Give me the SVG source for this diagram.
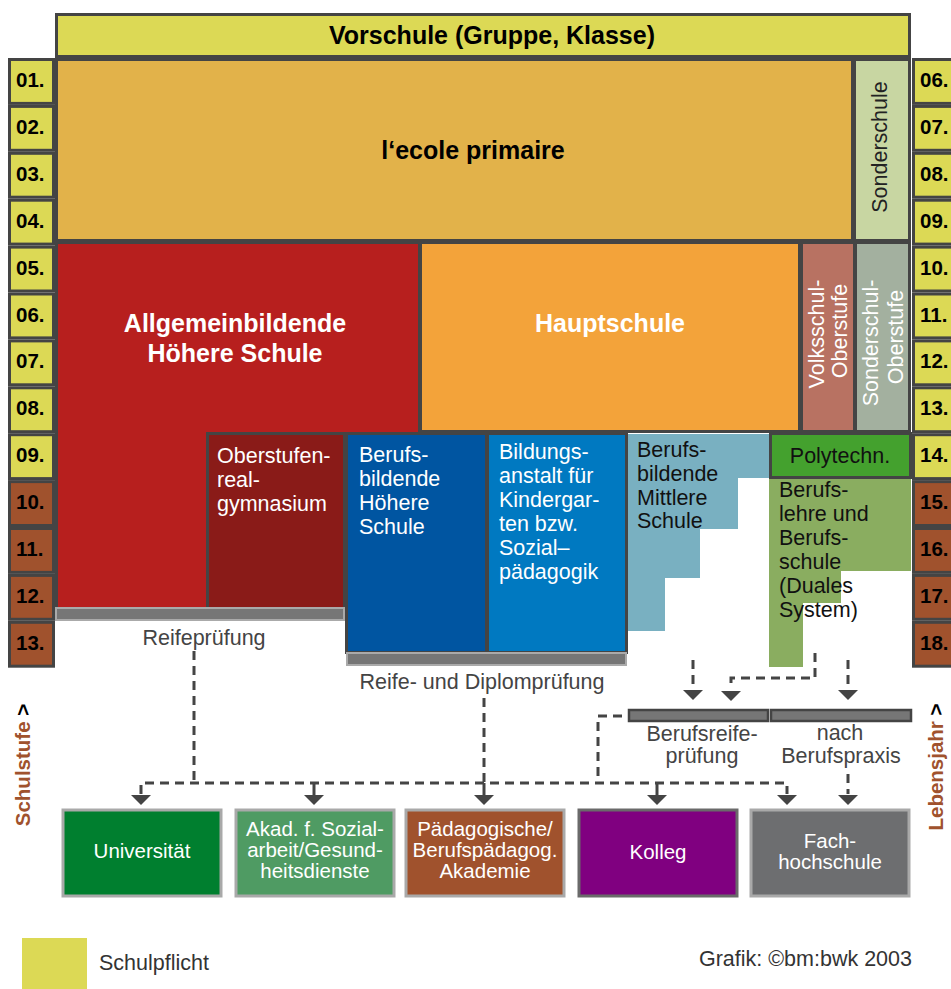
<svg xmlns="http://www.w3.org/2000/svg" xmlns:xlink="http://www.w3.org/1999/xlink" width="951" height="989" viewBox="0 0 951 989">
<style>
.bd{stroke:#444;stroke-width:3}
.yl{fill:#dcd955}
.brn{fill:#a0522d}
.yr{font-family:"Liberation Sans",Arial,sans-serif;font-weight:bold;font-size:20.5px;fill:#000}
.hb{font-family:"Liberation Sans",Arial,sans-serif;font-weight:bold;font-size:25px;text-anchor:middle}
.tx{font-family:"Liberation Sans",Arial,sans-serif;font-size:21.5px}
.w{fill:#fff}
.k{fill:#111}
.g{fill:#444}
.mid{text-anchor:middle}
.bar{fill:#767676;stroke:#aaa;stroke-width:2}
.bar2{fill:#767676;stroke:#444;stroke-width:2.5}
.dash{fill:none;stroke:#444;stroke-width:3;stroke-dasharray:9 6}
.stem{stroke:#444;stroke-width:3}
.dest{stroke:#a9a9a9;stroke-width:3}
.dt{font-family:"Liberation Sans",Arial,sans-serif;font-size:20.5px;fill:#fff;text-anchor:middle}
</style>
<defs>
<polygon id="tri" points="-10,0 10,0 0,10" fill="#444"/>
</defs>

<!-- Vorschule -->
<g id="vorschule">
<rect x="56.5" y="14.5" width="853" height="42" class="yl bd"/>
<text x="492" y="44" class="hb" fill="#000">Vorschule (Gruppe, Klasse)</text>
</g>

<!-- left age column (Schulstufe) -->
<g id="schulstufe">
<rect x="9.5" y="59.5" width="44" height="43.9" class="yl bd"/><text x="16" y="87" class="yr">01.</text>
<rect x="9.5" y="106.4" width="44" height="43.9" class="yl bd"/><text x="16" y="133.9" class="yr">02.</text>
<rect x="9.5" y="153.3" width="44" height="43.9" class="yl bd"/><text x="16" y="180.8" class="yr">03.</text>
<rect x="9.5" y="200.2" width="44" height="43.9" class="yl bd"/><text x="16" y="227.7" class="yr">04.</text>
<rect x="9.5" y="247.1" width="44" height="43.9" class="yl bd"/><text x="16" y="274.6" class="yr">05.</text>
<rect x="9.5" y="294" width="44" height="43.9" class="yl bd"/><text x="16" y="321.5" class="yr">06.</text>
<rect x="9.5" y="340.9" width="44" height="43.9" class="yl bd"/><text x="16" y="368.4" class="yr">07.</text>
<rect x="9.5" y="387.8" width="44" height="43.9" class="yl bd"/><text x="16" y="415.3" class="yr">08.</text>
<rect x="9.5" y="434.7" width="44" height="43.9" class="yl bd"/><text x="16" y="462.2" class="yr">09.</text>
<rect x="9.5" y="481.6" width="44" height="43.9" class="brn bd"/><text x="16" y="509.1" class="yr">10.</text>
<rect x="9.5" y="528.5" width="44" height="43.9" class="brn bd"/><text x="16" y="556" class="yr">11.</text>
<rect x="9.5" y="575.4" width="44" height="43.9" class="brn bd"/><text x="16" y="602.9" class="yr">12.</text>
<rect x="9.5" y="622.3" width="44" height="43.9" class="brn bd"/><text x="16" y="649.8" class="yr">13.</text>
</g>

<!-- right age column (Lebensjahr) -->
<g id="lebensjahr">
<rect x="913.5" y="59.5" width="44" height="43.9" class="yl bd"/><text x="920" y="87" class="yr">06.</text>
<rect x="913.5" y="106.4" width="44" height="43.9" class="yl bd"/><text x="920" y="133.9" class="yr">07.</text>
<rect x="913.5" y="153.3" width="44" height="43.9" class="yl bd"/><text x="920" y="180.8" class="yr">08.</text>
<rect x="913.5" y="200.2" width="44" height="43.9" class="yl bd"/><text x="920" y="227.7" class="yr">09.</text>
<rect x="913.5" y="247.1" width="44" height="43.9" class="yl bd"/><text x="920" y="274.6" class="yr">10.</text>
<rect x="913.5" y="294" width="44" height="43.9" class="yl bd"/><text x="920" y="321.5" class="yr">11.</text>
<rect x="913.5" y="340.9" width="44" height="43.9" class="yl bd"/><text x="920" y="368.4" class="yr">12.</text>
<rect x="913.5" y="387.8" width="44" height="43.9" class="yl bd"/><text x="920" y="415.3" class="yr">13.</text>
<rect x="913.5" y="434.7" width="44" height="43.9" class="yl bd"/><text x="920" y="462.2" class="yr">14.</text>
<rect x="913.5" y="481.6" width="44" height="43.9" class="brn bd"/><text x="920" y="509.1" class="yr">15.</text>
<rect x="913.5" y="528.5" width="44" height="43.9" class="brn bd"/><text x="920" y="556" class="yr">16.</text>
<rect x="913.5" y="575.4" width="44" height="43.9" class="brn bd"/><text x="920" y="602.9" class="yr">17.</text>
<rect x="913.5" y="622.3" width="44" height="43.9" class="brn bd"/><text x="920" y="649.8" class="yr">18.</text>
</g>

<!-- primary -->
<g id="primaire">
<rect x="56.5" y="59.5" width="796" height="181" fill="#e2b24a" class="bd"/>
<text x="473" y="159" class="hb" fill="#000">l‘ecole primaire</text>
</g>
<g id="sonderschule">
<rect x="854.5" y="59.5" width="55" height="181" fill="#c8d6a2" class="bd"/>
<text transform="translate(887,147) rotate(-90)" class="tx mid" font-size="20.5" fill="#222">Sonderschule</text>
</g>

<!-- AHS -->
<g id="ahs">
<rect x="56.5" y="242.5" width="363" height="366" fill="#b71f1e" class="bd"/>
<text x="235" y="332" class="hb w">Allgemeinbildende</text>
<text x="235" y="362" class="hb w">Höhere Schule</text>
</g>
<g id="hauptschule">
<rect x="420.5" y="242.5" width="379" height="189" fill="#f3a33a" class="bd"/>
<text x="610" y="332" class="hb w">Hauptschule</text>
</g>
<g id="volksschul-oberstufe">
<rect x="801.5" y="242.5" width="53" height="189" fill="#b87262" class="bd"/>
<text transform="translate(824,334) rotate(-90)" class="tx w mid" font-size="20">Volksschul-</text>
<text transform="translate(847,331) rotate(-90)" class="tx w mid" font-size="20">Oberstufe</text>
</g>
<g id="sonderschul-oberstufe">
<rect x="855.5" y="242.5" width="54" height="189" fill="#a3b09f" class="bd"/>
<text transform="translate(878,343) rotate(-90)" class="tx w mid" font-size="18.5">Sonderschul-</text>
<text transform="translate(903,337) rotate(-90)" class="tx w mid" font-size="18.5">Oberstufe</text>
</g>

<!-- upper secondary -->
<g id="oberstufenrealgymnasium">
<rect x="207.5" y="433.5" width="137" height="175" fill="#8a1b18" class="bd"/>
<text x="217" y="463" class="tx w">Oberstufen-</text>
<text x="217" y="487" class="tx w">real-</text>
<text x="217" y="511" class="tx w">gymnasium</text>
</g>
<g id="bhs">
<rect x="346.5" y="433.5" width="140" height="219" fill="#0055a1" class="bd"/>
<text x="359" y="462" class="tx w">Berufs-</text>
<text x="359" y="486" class="tx w">bildende</text>
<text x="359" y="510" class="tx w">Höhere</text>
<text x="359" y="534" class="tx w">Schule</text>
</g>
<g id="bildungsanstalt">
<rect x="487.5" y="433.5" width="139" height="219" fill="#0079c1" class="bd"/>
<text x="499" y="459" class="tx w">Bildungs-</text>
<text x="499" y="483" class="tx w">anstalt für</text>
<text x="499" y="507" class="tx w">Kindergar-</text>
<text x="499" y="531" class="tx w">ten bzw.</text>
<text x="499" y="555" class="tx w">Sozial–</text>
<text x="499" y="579" class="tx w">pädagogik</text>
</g>
<g id="bms">
<polygon points="628,434 769,434 769,478 738,478 738,529 700,529 700,578 665,578 665,631 628,631" fill="#79b0c1"/>
<text x="637" y="457" class="tx k">Berufs-</text>
<text x="637" y="481" class="tx k">bildende</text>
<text x="637" y="505" class="tx k">Mittlere</text>
<text x="637" y="528" class="tx k">Schule</text>
</g>
<g id="polytechn">
<rect x="770.5" y="433.5" width="140" height="44" fill="#44a12e" class="bd"/>
<text x="840" y="463" class="tx k mid">Polytechn.</text>
</g>
<g id="duales-system">
<polygon points="769,479 911,479 911,571 841,571 841,603 803,603 803,667 769,667" fill="#8aad60"/>
<text x="779" y="497" class="tx k">Berufs-</text>
<text x="779" y="521" class="tx k">lehre und</text>
<text x="779" y="545" class="tx k">Berufs-</text>
<text x="779" y="569" class="tx k">schule</text>
<text x="779" y="593" class="tx k">(Duales</text>
<text x="779" y="617" class="tx k">System)</text>
</g>

<!-- exams -->
<g id="reifepruefung">
<rect x="56" y="608" width="288" height="12" class="bar"/>
<text x="204" y="645" class="tx g mid">Reifeprüfung</text>
</g>
<g id="reife-diplompruefung">
<rect x="347" y="653" width="279" height="12" class="bar"/>
<text x="482" y="689" class="tx g mid">Reife- und Diplomprüfung</text>
</g>
<g id="berufsreifepruefung">
<rect x="629" y="710" width="139" height="11" class="bar2"/>
<text x="702" y="741" class="tx g mid">Berufsreife-</text>
<text x="702" y="763" class="tx g mid">prüfung</text>
</g>
<g id="nach-berufspraxis">
<rect x="771" y="710" width="140" height="11" class="bar2"/>
<text x="840" y="740" class="tx g mid">nach</text>
<text x="841" y="763" class="tx g mid">Berufspraxis</text>
</g>

<!-- connectors -->
<g id="connectors">
<path d="M194,651 V783" class="dash"/>
<path d="M141,794 V783 H787 V794" class="dash"/>
<path d="M484,698 V783" class="dash"/>
<path d="M622,716 H598 V783" class="dash"/>
<path d="M693,660 V689" class="dash"/>
<path d="M815,653 V678 H731 V689" class="dash"/>
<path d="M848,660 V689" class="dash"/>
<path d="M848,774 V794" class="dash"/>
<line x1="314" y1="783" x2="314" y2="795" class="stem"/>
<line x1="484" y1="783" x2="484" y2="795" class="stem"/>
<line x1="657" y1="783" x2="657" y2="795" class="stem"/>
<use xlink:href="#tri" x="141" y="795"/>
<use xlink:href="#tri" x="314" y="795"/>
<use xlink:href="#tri" x="484" y="795"/>
<use xlink:href="#tri" x="657" y="795"/>
<use xlink:href="#tri" x="787" y="795"/>
<use xlink:href="#tri" x="848" y="795"/>
<use xlink:href="#tri" x="693" y="690"/>
<use xlink:href="#tri" x="731" y="691"/>
<use xlink:href="#tri" x="848" y="690"/>
</g>

<!-- destinations -->
<g id="universitaet">
<rect x="63" y="810" width="158" height="86" fill="#007f2f" class="dest"/>
<text x="142" y="858" class="dt">Universität</text>
</g>
<g id="akademie-sozialarbeit">
<rect x="236" y="810" width="158" height="86" fill="#4f9b63" class="dest"/>
<text x="315" y="836" class="dt">Akad. f. Sozial-</text>
<text x="315" y="857" class="dt">arbeit/Gesund-</text>
<text x="315" y="878" class="dt">heitsdienste</text>
</g>
<g id="paedagogische-akademie">
<rect x="406" y="810" width="158" height="86" fill="#a0522d" class="dest"/>
<text x="485" y="836" class="dt">Pädagogische/</text>
<text x="485" y="857" class="dt">Berufspädagog.</text>
<text x="485" y="878" class="dt">Akademie</text>
</g>
<g id="kolleg">
<rect x="579" y="810" width="158" height="86" fill="#800080" stroke="#6a6a6a" stroke-width="3"/>
<text x="658" y="859" class="dt">Kolleg</text>
</g>
<g id="fachhochschule">
<rect x="751" y="810" width="158" height="86" fill="#6d6e70" class="dest"/>
<text x="830" y="848" class="dt">Fach-</text>
<text x="830" y="869" class="dt">hochschule</text>
</g>

<!-- axis labels -->
<g id="axis-schulstufe">
<text transform="translate(30,765) rotate(-90)" font-family="Liberation Sans, Arial, sans-serif" font-weight="bold" font-size="20.5" text-anchor="middle" fill="#a0522d">Schulstufe <tspan fill="#000">&gt;</tspan></text>
</g>
<g id="axis-lebensjahr">
<text transform="translate(943,767) rotate(-90)" font-family="Liberation Sans, Arial, sans-serif" font-weight="bold" font-size="20.5" text-anchor="middle" fill="#a0522d">Lebensjahr <tspan fill="#000">&gt;</tspan></text>
</g>

<!-- legend -->
<g id="legend">
<rect x="22" y="938" width="65" height="51" class="yl"/>
<text x="99" y="970" class="tx" font-size="20" fill="#333">Schulpflicht</text>
<text x="912" y="966" class="tx" font-size="20" fill="#333" text-anchor="end">Grafik: ©bm:bwk 2003</text>
</g>
</svg>
